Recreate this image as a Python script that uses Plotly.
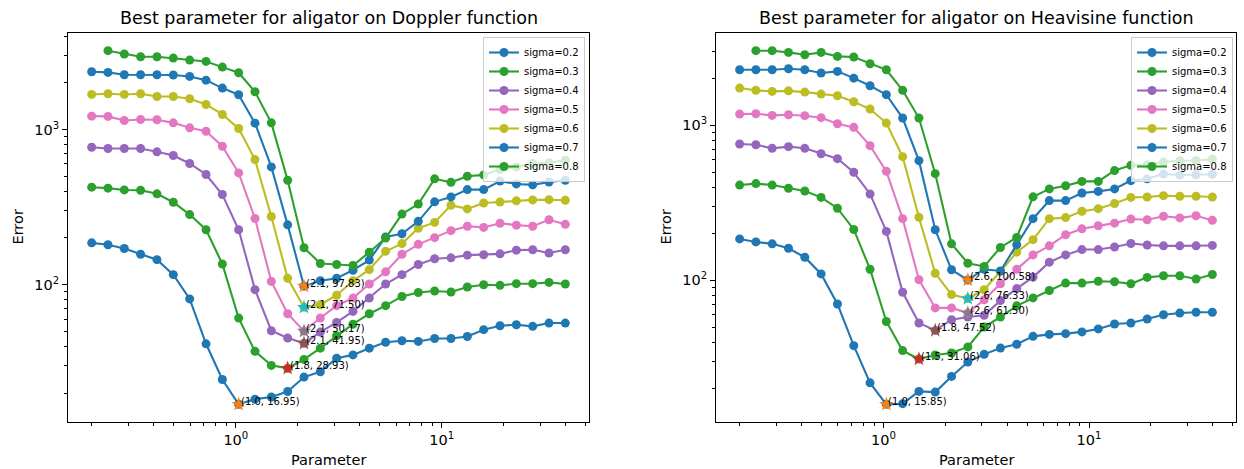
import numpy as np
import plotly.graph_objects as go

# Parameter values (x axis)
param = [0.19953, 0.23939, 0.28730, 0.34483, 0.41400, 0.49706, 0.59685, 0.71659,
         0.86001, 1.03227, 1.23898, 1.48710, 1.78523, 2.14297, 2.57225, 3.08726,
         3.70580, 4.44798, 5.33890, 6.40826, 7.69193, 9.23440, 11.0875, 13.3094,
         15.9771, 19.1806, 23.0273, 27.6423, 33.1669, 39.8107]

sigma_labels = ["sigma=0.2", "sigma=0.3", "sigma=0.4", "sigma=0.5",
                "sigma=0.6", "sigma=0.7", "sigma=0.8"]

# Doppler errors
dop_02 = [186, 181, 171, 157, 145, 116, 81, 41.6, 24.5, 16.95, 18.3, 18.9, 20.5, 25.4, 27.5,
          33.6, 35.3, 39.0, 42.6, 43.5, 43.1, 45.0, 45.0, 46.4, 51.3, 54.4, 55.2, 53.9, 56.6, 56.6]
dop_03 = [425, 419, 408, 406, 385, 340, 283, 226, 136, 60.9, 37.2, 30.2, 28.93, 33.0, 39.0,
          46.9, 55.7, 65.0, 73.3, 84, 89, 91, 89.7, 96.6, 100, 99.1, 101.5, 101.5, 103.5, 101]
dop_04 = [769, 754, 754, 754, 718, 680, 604, 513, 381, 226, 92.9, 50.5, 45.3, 41.95, 49.5,
          57.1, 67.3, 82, 101, 116, 135, 147, 149, 155, 156, 158, 167, 168, 160, 168]
dop_05 = [1219, 1215, 1143, 1160, 1155, 1104, 1025, 975, 780, 525, 267, 105, 65.0, 50.17, 61,
          73.3, 82, 101, 121, 157, 182, 201, 223, 238, 234, 249, 242, 238, 262, 245]
dop_06 = [1683, 1700, 1683, 1700, 1633, 1633, 1578, 1450, 1250, 1015, 640, 275, 110, 71.50, 74.3,
          85.5, 106, 125, 164, 184, 231, 252, 325, 308, 336, 341, 347, 352, 353, 350]
dop_07 = [2355, 2333, 2254, 2254, 2254, 2245, 2198, 2080, 1849, 1675, 1099, 574, 243, 97.83, 106,
          110, 124, 144, 203, 213, 256, 342, 368, 410, 410, 465, 446, 440, 459, 471]
dop_08 = [None, 3221, 3065, 2946, 2946, 2885, 2801, 2747, 2524, 2321, 1750, 1104, 471, 173, 137,
          135, 133, 162, 200, 285, 331, 481, 457, 500, 510, 552, 574, 604, 610, 634]

# Heavisine errors
hea_02 = [185, 177, 172, 161, 141, 110, 70.4, 37.9, 21.8, 15.85, 16.0, 19.2, 19.0, 24, 29.7,
          33.3, 36.6, 38.7, 43.5, 44.8, 45.3, 46.5, 48.6, 52.3, 53.1, 56.3, 60.0, 61.5, 62.2, 62.2]
hea_03 = [412, 421, 412, 393, 377, 343, 292, 213, 118, 54.3, 35.2, 31.06, 33, 34, 37.2,
          50, 58, 68.5, 77, 86, 96, 96, 98.6, 98, 95, 104.5, 107, 107, 102, 109]
hea_04 = [758, 750, 711, 729, 711, 656, 610, 498, 361, 207, 83.8, 53.1, 47.52, 55.7, 58,
          59.5, 74, 88.5, 105, 131, 146, 158, 158, 164, 173, 169, 167, 167, 167, 168]
hea_05 = [1183, 1189, 1160, 1172, 1155, 1121, 1025, 971, 740, 505, 250, 101, 66.4, 66.4, 61.50,
          75, 95, 118, 146, 167, 197, 215, 225, 234, 249, 246, 259, 253, 261, 244]
hea_06 = [1741, 1683, 1657, 1670, 1640, 1592, 1553, 1421, 1275, 1035, 628, 255, 111, 80.9, 76.33,
          87, 114, 152, 183, 250, 254, 279, 290, 313, 343, 345, 352, 349, 349, 345]
hea_07 = [2285, 2285, 2285, 2320, 2285, 2178, 2230, 2018, 1803, 1578, 1115, 592, 212, 117, 100.58,
          118, 115, 170, 250, 327, 327, 366, 375, 389, 440, 452, 485, 478, 480, 484]
hea_08 = [None, 3034, 3034, 2958, 2858, 2958, 2787, 2760, 2500, 2285, 1683, 1115, 488, 172, 129,
          123, 163, 189, 346, 389, 408, 435, 435, 511, 552, 557, 580, 591, 594, 606]

titles = ["Best parameter for aligator on Doppler function",
          "Best parameter for aligator on Heavisine function"]

panels = [
    [dop_02, dop_03, dop_04, dop_05, dop_06, dop_07, dop_08],
    [hea_02, hea_03, hea_04, hea_05, hea_06, hea_07, hea_08],
]

tab10 = ["#1f77b4", "#ff7f0e", "#2ca02c", "#d62728", "#9467bd",
         "#8c564b", "#e377c2", "#7f7f7f", "#bcbd22", "#17becf"]

W, H = 1244, 469
FONT = "DejaVu Sans"

# axes pixel boxes (left, right, top, bottom)
boxes = [(68, 589, 33, 422), (716, 1236, 33, 422)]
legend_pos = [(585, 37), (1233, 37)]

fig = go.Figure()
annotations = []

for p, series in enumerate(panels):
    xa = "x" if p == 0 else "x2"
    ya = "y" if p == 0 else "y2"
    leg = "legend" if p == 0 else "legend2"
    ci = 0
    all_y = []
    for s, vals in enumerate(series):
        line_col = tab10[ci % 10]
        star_col = tab10[(ci + 1) % 10]
        ci += 2
        yv = [np.nan if v is None else v for v in vals]
        all_y += [v for v in vals if v is not None]
        fig.add_trace(go.Scatter(
            x=param, y=yv, mode="lines+markers", name=sigma_labels[s],
            line=dict(color=line_col, width=2.1),
            marker=dict(color=line_col, size=9),
            xaxis=xa, yaxis=ya, legend=leg, showlegend=True,
        ))
        arr = np.array(yv, dtype=float)
        if np.isnan(arr).any():
            continue  # argmin undefined -> nothing drawn
        i = int(np.argmin(arr))
        fig.add_trace(go.Scatter(
            x=[param[i]], y=[arr[i]], mode="markers",
            marker=dict(symbol="star", color=star_col, size=11,
                        line=dict(width=0)),
            xaxis=xa, yaxis=ya, showlegend=False, hoverinfo="skip",
        ))
        annotations.append(dict(
            x=np.log10(param[i]), y=np.log10(arr[i]), xref=xa, yref=ya,
            text="({:.1f}, {:.2f})".format(param[i], arr[i]),
            showarrow=False, xanchor="left", yanchor="middle", yshift=3,
            font=dict(family=FONT, size=10, color="black"),
        ))

    # axis ranges like matplotlib (5% margins in log space)
    lx = np.log10(param)
    spx = lx.max() - lx.min()
    xr = [lx.min() - 0.05 * spx, lx.max() + 0.05 * spx]
    ly = np.log10(all_y)
    spy = ly.max() - ly.min()
    yr = [ly.min() - 0.05 * spy, ly.max() + 0.05 * spy]

    l, r, t, b = boxes[p]
    xdom = [l / W, r / W]
    ydom = [1 - b / H, 1 - t / H]

    major = [0.01, 0.1, 1, 10, 100, 1000, 10000]
    major_txt = ["10<sup>%d</sup>" % e for e in range(-2, 5)]
    minor = [m * 10.0 ** e for e in range(-2, 5) for m in range(2, 10)]

    axis_common = dict(
        type="log", showgrid=False, zeroline=False,
        showline=True, linecolor="black", linewidth=1, mirror=True,
        ticks="outside", ticklen=5, tickwidth=1, tickcolor="black",
        tickmode="array", tickvals=major, ticktext=major_txt,
        tickfont=dict(family=FONT, size=14.5, color="black"),
        minor=dict(ticks="outside", ticklen=3, tickwidth=0.8, tickcolor="black",
                   tickmode="array", tickvals=minor, showgrid=False),
    )
    fig.update_layout({
        ("xaxis" if p == 0 else "xaxis2"): dict(axis_common, domain=xdom, range=xr,
                                                anchor=ya),
        ("yaxis" if p == 0 else "yaxis2"): dict(axis_common, domain=ydom, range=yr,
                                                anchor=xa),
    })

    lx_px, ly_px = legend_pos[p]
    fig.update_layout({leg: dict(
        x=lx_px / W, y=1 - ly_px / H, xanchor="right", yanchor="top",
        bgcolor="rgba(255,255,255,0.8)", bordercolor="#cccccc", borderwidth=1,
        font=dict(family=FONT, size=10, color="black"),
        tracegroupgap=0, itemwidth=30,
    )})

    cx = (l + r) / 2 / W
    annotations.append(dict(
        x=cx, y=1 - 18 / H, xref="paper", yref="paper", text=titles[p],
        showarrow=False, xanchor="center", yanchor="middle",
        font=dict(family=FONT, size=17.5, color="black")))
    annotations.append(dict(
        x=cx, y=1 - 460 / H, xref="paper", yref="paper", text="Parameter",
        showarrow=False, xanchor="center", yanchor="middle",
        font=dict(family=FONT, size=14.5, color="black")))
    annotations.append(dict(
        x=(l - 50) / W, y=1 - (t + b) / 2 / H, xref="paper", yref="paper", text="Error",
        showarrow=False, xanchor="center", yanchor="middle", textangle=-90,
        font=dict(family=FONT, size=14.5, color="black")))

fig.update_layout(
    width=W, height=H, margin=dict(l=0, r=0, t=0, b=0),
    paper_bgcolor="white", plot_bgcolor="white",
    annotations=annotations, showlegend=True,
    font=dict(family=FONT, color="black"),
)

fig.write_html("out.html", config={"displayModeBar": False},
               post_script="document.body.style.margin='0';")
